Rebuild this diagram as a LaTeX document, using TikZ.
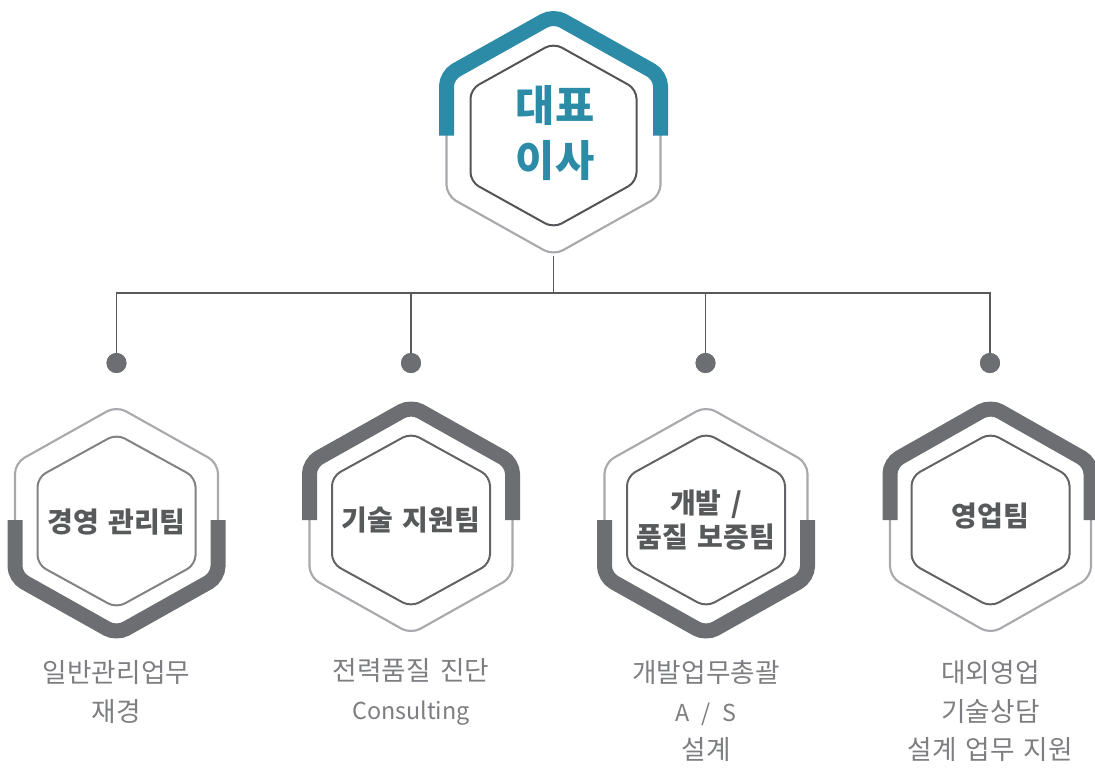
\documentclass[tikz,border=0pt]{standalone}
\usepackage{fontspec}
\newfontfamily\kr{Noto Sans CJK KR}[WordSpace=1.5]
\definecolor{ceoteal}{HTML}{2C8BA7}
\definecolor{bandgray}{HTML}{6D6E71}
\definecolor{thingray}{HTML}{A7A9AC}
\definecolor{innergray}{HTML}{626366}
\definecolor{linegray}{HTML}{58595B}
\definecolor{labelgray}{HTML}{58595B}
\definecolor{descgray}{HTML}{7D7E81}
\newcommand\HexLoop[5]{\draw[#5] (#1-#3,#2) -- (#1-#3,#2-#4/2) -- (#1,#2-#4) -- (#1+#3,#2-#4/2) -- (#1+#3,#2+#4/2) -- (#1,#2+#4) -- (#1-#3,#2+#4/2) -- cycle;}
\newcommand\BandUp[5]{\draw[#5] (#1-#3,#2) -- (#1-#3,#2-#4/2) -- (#1,#2-#4) -- (#1+#3,#2-#4/2) -- (#1+#3,#2);}
\newcommand\BandDown[5]{\draw[#5] (#1-#3,#2) -- (#1-#3,#2+#4/2) -- (#1,#2+#4) -- (#1+#3,#2+#4/2) -- (#1+#3,#2);}
\newcommand\latinsize{\fontsize{17.5}{29}\selectfont}
\tikzset{
  thinhex/.style={draw=thingray, line width=1.6pt, rounded corners=8pt},
  innerhex/.style={draw=innergray, line width=1.5pt, rounded corners=7pt},
  band/.style={line width=11.25pt, rounded corners=8pt, line cap=butt},
  conn/.style={draw=linegray, line width=0.9pt},
  dotnode/.style={circle, fill=bandgray, minimum size=15pt, inner sep=0pt},
  ceolabel/.style={text=ceoteal, font=\kr\bfseries\fontsize{32}{41}\selectfont, align=center},
  teamlabel/.style={text=labelgray, font=\kr\bfseries\fontsize{21}{25.5}\selectfont, align=center},
  desclabel/.style={text=descgray, font=\kr\fontsize{20}{29}\selectfont, align=center},
}
\begin{document}
\begin{tikzpicture}[x=0.75pt,y=-0.75pt]
\useasboundingbox (0,0) rectangle (1095,772);
% connectors
\coordinate (topb) at (553.5,255.5);
\coordinate (junc) at (553.5,293);
\node[dotnode] (dot1) at (116.5,363) {};
\node[dotnode] (dot2) at (411,363) {};
\node[dotnode] (dot3) at (705.5,363) {};
\node[dotnode] (dot4) at (990,363) {};
\draw[conn] (topb) -- (junc);
\draw[conn] (dot1.center) |- (junc);
\draw[conn] (dot2.center) |- (junc);
\draw[conn] (dot3.center) |- (junc);
\draw[conn] (dot4.center) |- (junc);
\node[dotnode] at (dot1) {};
\node[dotnode] at (dot2) {};
\node[dotnode] at (dot3) {};
\node[dotnode] at (dot4) {};
% top hexagon
\HexLoop{553.5}{135.5}{107}{120}{thinhex}
\BandUp{553.5}{135.5}{107}{120}{band, draw=ceoteal}
\HexLoop{553.5}{135.5}{83}{92.5}{innerhex, draw=innergray!85!black}
\node[ceolabel] (ceo) at (555,133) {대표\\이사};
% team hexagons
\HexLoop{116.5}{520}{101.5}{114}{thinhex}
\BandDown{116.5}{520}{101.5}{114}{band, draw=bandgray}
\HexLoop{116.5}{521}{79}{87}{innerhex, draw=innergray!80!white}
\node[teamlabel] (team1) at (116.5,522) {경영 관리팀};

\HexLoop{411}{520}{101.5}{114}{thinhex}
\BandUp{411}{520}{101.5}{114}{band, draw=bandgray}
\HexLoop{411}{520}{79}{87}{innerhex}
\node[teamlabel] (team2) at (411,520) {기술 지원팀};

\HexLoop{706}{520}{101.5}{114}{thinhex}
\BandDown{706}{520}{101.5}{114}{band, draw=bandgray}
\HexLoop{706}{520}{79}{87}{innerhex}
\node[teamlabel] (team3) at (706,520) {개발 /\\품질 보증팀};

\HexLoop{990.5}{520}{100.5}{114}{thinhex}
\BandUp{990.5}{520}{100.5}{114}{band, draw=bandgray}
\HexLoop{990.5}{520}{79}{87}{innerhex}
\node[teamlabel] (team4) at (990.5,516) {영업팀};
% descriptions
\node[desclabel] (desc1) at (116.5,692) {일반관리업무\\재경};
\node[desclabel] (desc2) at (411,692) {전력품질 진단\\{\latinsize Consulting}};
\node[desclabel] (desc3) at (706,711) {개발업무총괄\\{\latinsize A \,/\, S}\\설계};
\node[desclabel] (desc4) at (990.5,711) {대외영업\\기술상담\\설계 업무 지원};
\end{tikzpicture}
\end{document}
